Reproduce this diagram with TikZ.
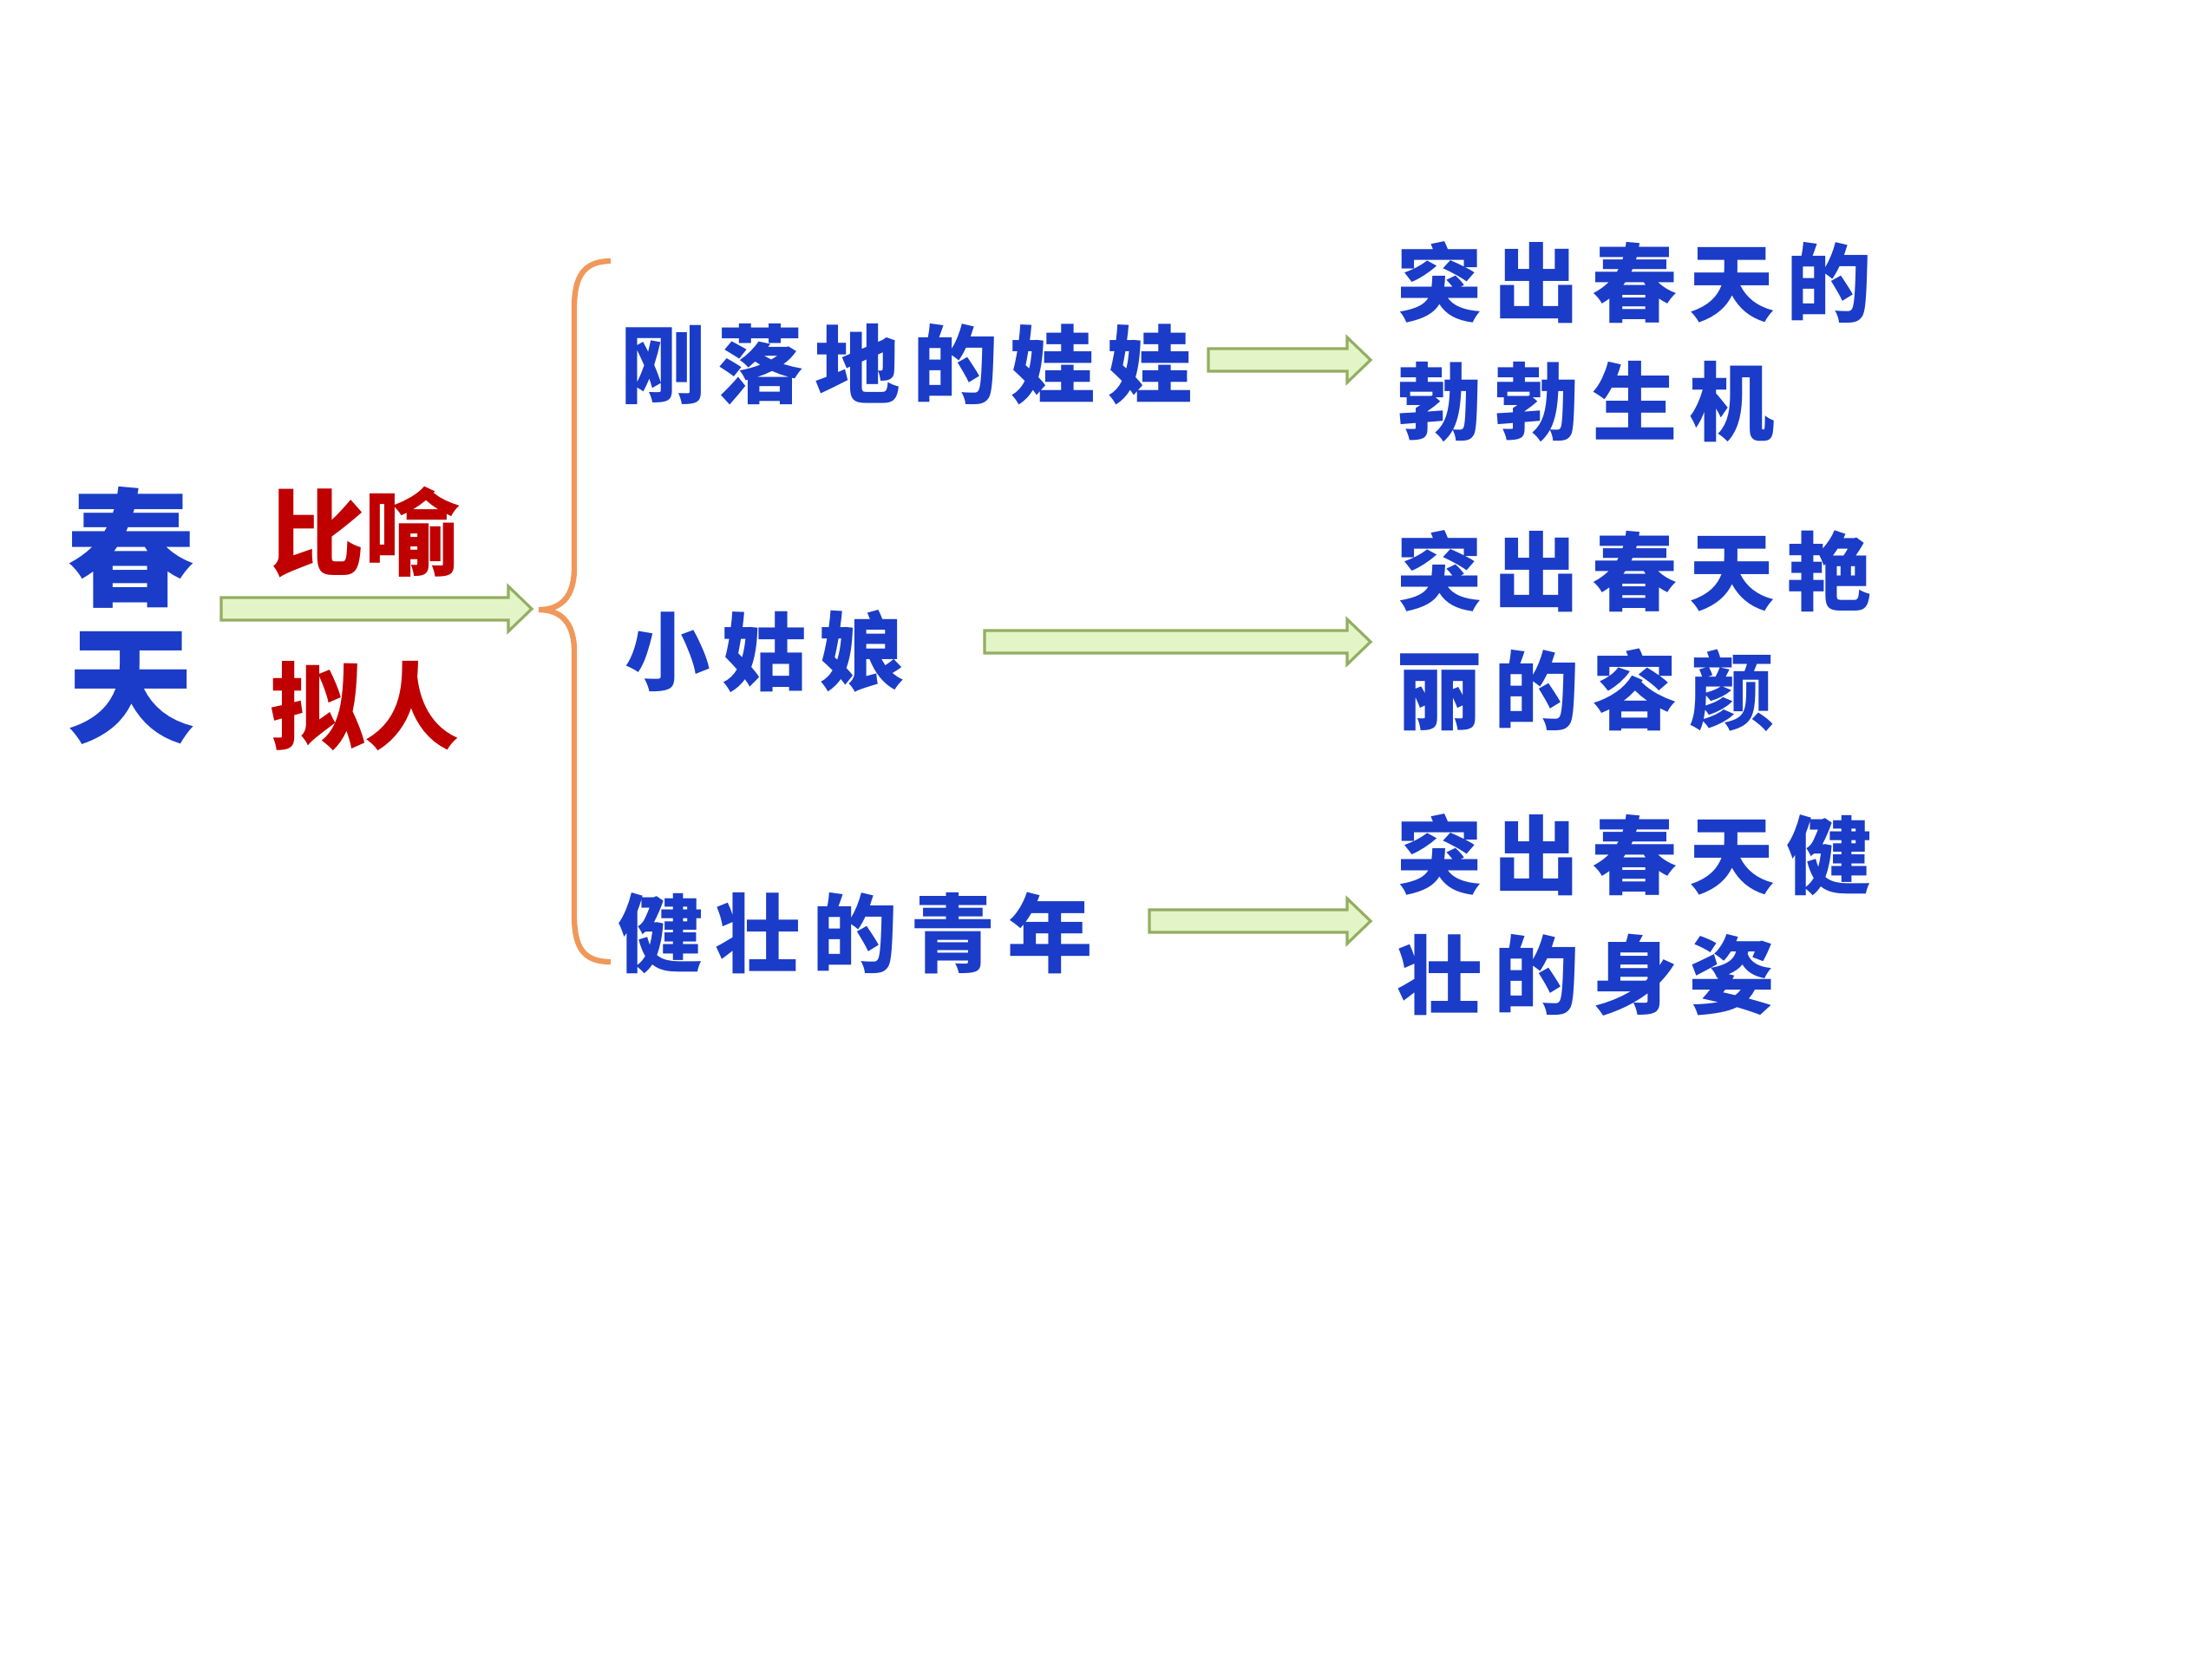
\documentclass[tikz,border=0pt]{standalone}
\usepackage{fontspec}
\usepackage{xcolor}
\usepackage{tikz}
\usetikzlibrary{calc}
\newfontfamily\cjk[LetterSpace=14]{Noto Sans CJK SC}
\newfontfamily\cjkred{Noto Sans CJK SC}
\definecolor{spblue}{HTML}{1A3CC8}
\definecolor{spred}{HTML}{C00000}
\definecolor{sporange}{HTML}{F0985A}
\definecolor{spgreen}{HTML}{E3F4C6}
\definecolor{spolive}{HTML}{93AE62}

\begin{document}
\begin{tikzpicture}[
  blue/.style={inner sep=0pt, text=spblue, font=\cjk\bfseries\fontsize{28}{39}\selectfont},
  side/.style={blue, anchor=west, align=left},
  big/.style={inner sep=0pt, text=spblue, align=center, font=\cjkred\bfseries\fontsize{42}{45}\selectfont},
  red/.style={inner sep=0pt, text=spred, font=\cjkred\bfseries\fontsize{31}{34}\selectfont},
  fat/.style={fill=spgreen, draw=spolive, line width=0.9pt, line join=miter},
  brace/.style={draw=sporange, line width=1.8pt},
]
\useasboundingbox (0,0) rectangle (25.5,-19.13);

\newcommand{\fatarrow}[2]{\path[fat] ($(#1)+(0,0.13)$) -- ($(#2)+(-0.27,0.13)$)
  -- ($(#2)+(-0.27,0.26)$) -- (#2) -- ($(#2)+(-0.27,-0.26)$)
  -- ($(#2)+(-0.27,-0.13)$) -- ($(#1)+(0,-0.13)$) -- cycle;}

% ---- left: spring and the two figures of speech ----
\node[big] (spring) at (1.51,-7.10) {春\\天};
\node[red] (simile) at (4.20,-6.14) {比喻};
\node[red] (person) at (4.20,-8.14) {拟人};

% ---- brace ----
\coordinate (tip) at (6.21,-7.03);
\draw[brace] (7.04,-3.01) .. controls (6.72,-3.01) and (6.62,-3.20) .. (6.62,-3.55)
  -- (6.62,-6.55) .. controls (6.62,-6.90) and (6.45,-7.03) .. (tip)
  .. controls (6.45,-7.03) and (6.62,-7.16) .. (6.62,-7.51)
  -- (6.62,-10.55) .. controls (6.62,-10.92) and (6.72,-11.09) .. (7.04,-11.09);

% ---- middle column ----
\node[blue, anchor=west] (baby) at (7.15,-4.20) {刚落地的娃娃};
\node[blue, anchor=west] (girl) at (7.20,-7.51) {小姑娘};
\node[blue, anchor=west] (youth) at (7.12,-10.76) {健壮的青年};

% ---- right column ----
\node[side] (vigour) at (16.10,-3.94) {突出春天的\\勃勃生机};
\node[side] (beauty) at (16.10,-7.28) {突出春天艳\\丽的容颜};
\node[side] (strong) at (16.10,-10.55) {突出春天健\\壮的身姿};

% ---- arrow ends ----
\coordinate (s0) at (2.55,-7.02);
\coordinate (e0) at (6.13,-7.02);
\coordinate (s1) at (13.93,-4.15);
\coordinate (e1) at (15.80,-4.15);
\coordinate (s2) at (11.35,-7.40);
\coordinate (e2) at (15.80,-7.40);
\coordinate (s3) at (13.25,-10.62);
\coordinate (e3) at (15.80,-10.62);

% ---- arrows ----
\fatarrow{s0}{e0}
\fatarrow{s1}{e1}
\fatarrow{s2}{e2}
\fatarrow{s3}{e3}

\end{tikzpicture}
\end{document}
